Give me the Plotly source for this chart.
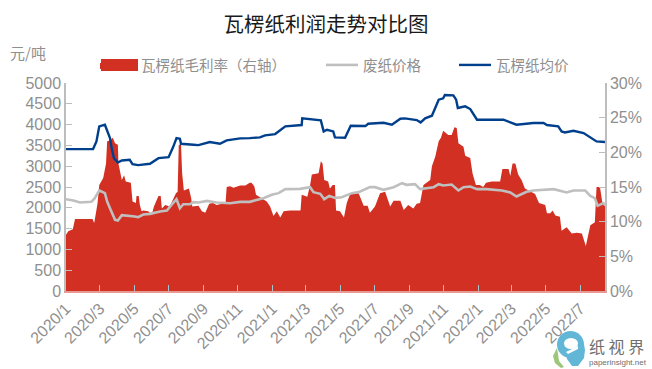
import pandas as pd
import plotly.graph_objects as go

BASE = pd.Timestamp("2020-01-01")

title_text = "瓦楞纸利润走势对比图"
unit_text = "元/吨"
series_names = ["瓦楞纸毛利率（右轴）", "废纸价格", "瓦楞纸均价"]
price_ticks = [0, 500, 1000, 1500, 2000, 2500, 3000, 3500, 4000, 4500, 5000]
margin_ticks = [0, 5, 10, 15, 20, 25, 30]

margin_days = [0,4,12,16,47,50,53,56,59,66,71,73,78,83,87,92,93,97,99,103,106,115,118,124,125,129,131,134,137,146,152,156,160,164,168,170,176,184,195,198,200,204,206,209,218,222,224,235,241,247,254,261,267,283,285,291,297,309,318,326,
329,334,337,347,356,362,368,374,380,386,397,416,418,428,433,436,448,452,455,458,465,468,473,477,479,486,493,498,504,519,528,535,539,548,557,566,575,581,593,599,607,616,622,628,634,646,
649,655,661,665,669,678,684,689,693,696,705,708,717,721,727,734,740,745,755,770,774,785,788,792,797,802,808,814,832,839,850,853,859,863,868,876,879,888,897,906,915,922,930,938,941,947,951,956]
margin_pct = [8.1,8.6,8.9,10.4,10.4,9.8,11.2,12.7,15.3,16.3,18.4,21.6,21.7,22.1,21.3,21.1,18.4,17.0,16.0,16.7,15.8,15.6,12.9,12.7,13.7,13.7,12.4,11.5,11.6,11.5,11.0,12.2,12.9,13.7,13.7,11.9,12.4,12.2,14.1,14.3,21.1,21.1,17.0,14.5,14.8,13.4,12.2,12.3,11.5,11.3,12.6,12.7,12.4,12.7,15.0,15.1,14.9,15.2,15.2,15.6,
15.6,15.1,13.9,13.4,12.9,12.2,10.8,11.5,10.6,11.5,11.6,11.6,13.9,13.6,15.3,16.8,17.0,18.7,18.4,16.0,15.8,14.8,15.3,15.3,11.6,11.5,10.6,12.7,14.0,14.1,12.3,12.3,11.3,12.2,14.1,14.3,12.2,13.0,13.0,11.7,12.4,11.9,12.6,12.7,15.3,16.0,
18.0,19.4,21.6,22.1,23.1,22.5,22.5,23.6,23.5,21.3,20.8,19.5,19.2,17.0,15.3,15.3,15.0,15.6,15.8,15.8,17.6,17.6,16.6,18.4,18.4,16.8,16.0,14.8,14.0,12.7,12.4,11.2,11.2,11.6,10.9,10.7,8.7,9.2,8.3,8.4,8.3,6.5,9.5,9.9,15.0,15.0,12.9,12.2]

waste_days = [0,13,25,45,51,59,69,73,78,87,92,99,122,128,137,149,167,179,187,196,202,208,220,226,235,250,267,291,309,326,
350,365,377,389,415,433,439,451,458,467,477,489,507,519,539,548,563,581,596,604,619,628,
652,661,669,684,696,705,717,729,746,773,788,799,817,829,865,888,900,921,930,938,943,953,956]
waste_price = [2207,2175,2127,2143,2231,2416,2352,2151,1990,1710,1693,1822,1790,1774,1838,1854,1910,1934,2071,2207,1990,2087,2087,2135,2127,2167,2127,2111,2143,2143,
2231,2311,2352,2448,2456,2496,2376,2336,2207,2287,2239,2255,2352,2376,2496,2496,2432,2496,2592,2552,2568,2448,
2496,2568,2536,2560,2416,2496,2512,2448,2448,2416,2368,2271,2384,2416,2448,2368,2416,2416,2287,2231,2047,2111,2071]

board_days = [0,48,54,59,69,73,78,81,85,92,99,113,118,128,149,164,182,190,196,202,204,226,235,255,273,285,309,326,
344,353,371,389,418,419,436,452,457,463,474,477,495,505,531,536,563,578,593,601,622,629,637,
649,661,669,672,687,692,695,708,717,729,776,799,829,847,853,873,879,885,900,918,941,956]
board_price = [3411,3411,3596,3957,3997,3836,3676,3435,3194,3090,3138,3154,3050,3026,3058,3194,3218,3459,3676,3660,3539,3515,3507,3580,3539,3620,3668,3676,
3692,3740,3772,3957,3989,4149,4125,4101,3836,3877,3836,3692,3684,3973,3965,4021,4045,3997,4141,4149,4109,4053,4149,
4214,4599,4631,4711,4703,4599,4398,4438,4374,4117,4117,3997,4037,4037,3989,3957,3836,3812,3852,3796,3596,3580]

def dates(days):
    return [(BASE + pd.Timedelta(days=int(d))).strftime("%Y-%m-%d") for d in days]

W, H = 652, 369
L, R, T, B = 66, 605, 83, 291
def px(x): return (x - L) / (R - L)
def py(y): return (B - y) / (B - T)

GREY = "#8f8f8f"
AXIS = "#bdbdbd"
CJK = "Liberation Sans, Noto Sans CJK SC, sans-serif"

fig = go.Figure()
# margin sits on the primary axis (drawn first), prices on the overlay so lines stay on top
fig.add_trace(go.Scatter(x=dates(margin_days), y=margin_pct, name=series_names[0], mode="lines",
                         line=dict(color="#d23022", width=0), fill="tozeroy", fillcolor="#d23022",
                         yaxis="y", legend="legend", showlegend=True))
fig.add_trace(go.Scatter(x=dates(waste_days), y=waste_price, name=series_names[1], mode="lines",
                         line=dict(color="#bfbfbf", width=2.6), yaxis="y2", legend="legend2", showlegend=True))
fig.add_trace(go.Scatter(x=dates(board_days), y=board_price, name=series_names[2], mode="lines",
                         line=dict(color="#003f8c", width=2.4), yaxis="y2", legend="legend3", showlegend=True))

def ell(x0, y0, x1, y1, color):
    return dict(type="circle", xref="paper", yref="paper", x0=px(x0), x1=px(x1), y0=py(y0), y1=py(y1),
                fillcolor=color, line=dict(width=0), layer="above")
def poly(d, color):
    s = "M" + " L".join(f"{px(a):.4f},{py(b):.4f}" for a, b in d) + " Z"
    return dict(type="path", xref="paper", yref="paper", path=s, fillcolor=color, line=dict(width=0), layer="above")

shapes = [
    dict(type="rect", xref="paper", yref="paper", x0=px(101), x1=px(138), y0=py(59), y1=py(71),
         fillcolor="#d23022", line=dict(width=0), layer="above"),
    poly([(557,348),(553,356),(555,363),(561,368),(564,367),(559,361),(558,354)], "#9cc77a"),
    ell(557, 331, 584, 358, "#62b6d6"),
    ell(564, 338, 578, 349, "white"),
    poly([(566,352),(584,344),(585,350),(584,358),(578,366),(572,366),(567,359)], "#62b6d6"),
    poly([(566,352),(578,346),(578,349),(568,354)], "white"),
]

def leg(x, iw):
    return dict(orientation="h", x=x/W, xanchor="left", xref="container", y=1-65/H, yanchor="middle", yref="container",
                font=dict(size=14.5, color=GREY, family="Noto Sans CJK SC"),
                itemwidth=iw, bgcolor="rgba(0,0,0,0)", visible=True)

fig.update_layout(
    width=W, height=H, showlegend=True,
    margin=dict(l=L, r=W - R, t=T, b=H - B, autoexpand=False),
    paper_bgcolor="white", plot_bgcolor="white",
    font=dict(family=CJK, color=GREY, size=16),
    title=dict(text=title_text, x=0.5, xanchor="center", y=0.932, yanchor="middle",
               font=dict(size=20.5, color="#1a1a1a", family="Noto Sans CJK SC")),
    legend=leg(95, 36), legend2=leg(321, 32), legend3=leg(454, 32),
    xaxis=dict(type="date", range=dates([0, 956]), dtick="M2", tick0="2020-01-01",
               tickformat="%Y/%-m", tickangle=-45, ticks="inside", ticklen=6, tickcolor="#a9c4c8",
               showgrid=False, showline=True, linecolor="#e79a93", linewidth=2, zeroline=False,
               tickfont=dict(size=16, color=GREY)),
    yaxis=dict(range=[0, 30], tickvals=margin_ticks, ticktext=[f"{t}%" for t in margin_ticks],
               side="right", ticks="inside", ticklen=6, tickcolor=AXIS,
               showgrid=False, showline=True, linecolor=AXIS, linewidth=1.5, zeroline=False,
               tickfont=dict(size=16, color=GREY)),
    yaxis2=dict(range=[0, 5000], tickvals=price_ticks, overlaying="y", side="left",
                ticks="inside", ticklen=6, tickcolor=AXIS,
                showgrid=False, showline=True, linecolor=AXIS, linewidth=1.5, zeroline=False,
                tickfont=dict(size=16, color=GREY)),
    shapes=shapes,
    annotations=[
        dict(text=unit_text, xref="paper", yref="paper", x=px(8), y=py(52), xanchor="left",
             yanchor="middle", showarrow=False, font=dict(size=15, color=GREY, family="Noto Sans CJK SC")),
        dict(text="纸 视 界", xref="paper", yref="paper", x=px(587), y=py(346), xanchor="left",
             yanchor="middle", showarrow=False, font=dict(size=16, color="#6e6e6e", family="Noto Sans CJK SC")),
        dict(text="paperinsight.net", xref="paper", yref="paper", x=px(587), y=py(362), xanchor="left",
             yanchor="middle", showarrow=False, font=dict(size=8, color="#6e6e6e", family="Liberation Sans")),
    ],
)

fig.write_html("out.html", config={"displayModeBar": False}, post_script="document.body.style.margin='0';")
